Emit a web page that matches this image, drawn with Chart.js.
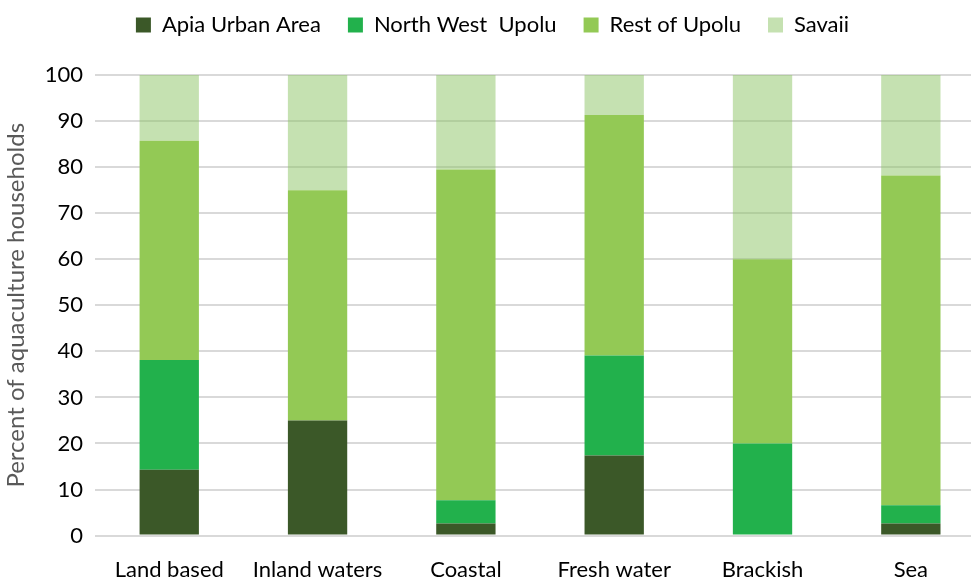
<!DOCTYPE html>
<html>
<head>
<meta charset="utf-8">
<script src="https://cdn.jsdelivr.net/npm/chart.js@4"></script>
<style>
  body { margin: 0; background: #fff; overflow: hidden; }
  #wrap { width: 985px; height: 581px; }
</style>
</head>
<body>
<div id="wrap"><canvas id="chart"></canvas></div>
<script>
const categories = ['Land based', 'Inland waters', 'Coastal', 'Fresh water', 'Brackish', 'Sea'];
const apiaUrban = [14.3, 25, 2.6, 17.4, 0, 2.6];
const northWestUpolu = [23.8, 0, 5.1, 21.7, 20, 4.0];
const restOfUpolu = [47.6, 50, 71.8, 52.2, 40, 71.6];
const savaii = [14.3, 25, 20.5, 8.7, 40, 21.8];
const yTicks = [0, 10, 20, 30, 40, 50, 60, 70, 80, 90, 100];

const font = 'Lato, "Open Sans", sans-serif';

// extra room under the legend
const legendGap = {
    id: 'legendGap',
    beforeInit(chart) {
        const fit = chart.legend.fit;
        chart.legend.fit = function () {
            fit.bind(chart.legend)();
            this.height += 29;
        };
    }
};

const ctx = document.getElementById('chart').getContext('2d');
const myChart = new Chart(ctx, {
    type: 'bar',
    data: {
        labels: categories,
        datasets: [
            { label: 'Apia Urban Area', data: apiaUrban, backgroundColor: '#3b5828' },
            { label: 'North West  Upolu', data: northWestUpolu, backgroundColor: '#22b14c' },
            { label: 'Rest of Upolu', data: restOfUpolu, backgroundColor: '#93c955' },
            { label: 'Savaii', data: savaii, backgroundColor: 'rgba(140,196,100,0.5)' }
        ]
    },
    options: {
        responsive: true,
        maintainAspectRatio: false,
        animation: false,
        layout: { padding: { top: -13, right: 0, left: 0, bottom: -23 } },
        datasets: { bar: { barPercentage: 0.4, categoryPercentage: 1 } },
        plugins: {
            legend: {
                position: 'top',
                labels: {
                    boxWidth: 15,
                    boxHeight: 15,
                    padding: 27,
                    color: '#000',
                    font: { family: font, size: 22 }
                }
            },
            tooltip: { enabled: false }
        },
        scales: {
            x: {
                stacked: true,
                grid: { display: false, drawTicks: false },
                border: { display: false },
                ticks: { color: '#000', padding: 21, font: { family: font, size: 22 } }
            },
            y: {
                stacked: true,
                min: 0,
                max: 100,
                afterBuildTicks: axis => { axis.ticks = yTicks.map(v => ({ value: v })); },
                grid: { color: '#d9d9d9', lineWidth: 2, drawTicks: false },
                border: { display: false },
                ticks: { color: '#000', padding: 12, font: { family: font, size: 22 } },
                title: {
                    display: true,
                    text: 'Percent of aquaculture households',
                    color: '#595959',
                    padding: { top: 2, bottom: 2 },
                    font: { family: font, size: 24 }
                }
            }
        }
    },
    plugins: [legendGap]
});
</script>
</body>
</html>
